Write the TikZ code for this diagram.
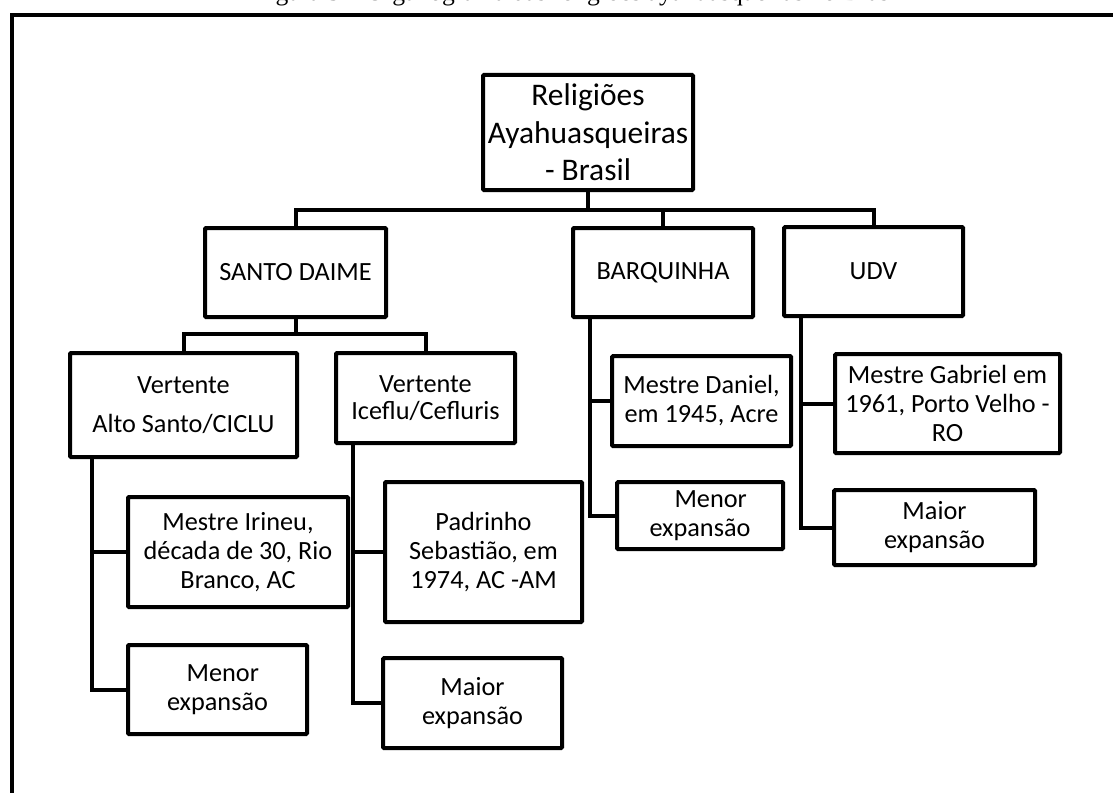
\documentclass[tikz,border=0pt]{standalone}
\usepackage{fontspec}
\setmainfont{Carlito}
\newfontfamily\capfont{Liberation Serif}
\usetikzlibrary{calc}
\begin{document}
\begin{tikzpicture}[x=0.75pt,y=-0.75pt,
  bx/.style={draw, line width=3pt, rounded corners=0.8pt, align=center, inner sep=0pt,
             font=\fontsize{19.7pt}{21.75pt}\selectfont},
  sz/.style 2 args={minimum width=#1*0.75pt, minimum height=#2*0.75pt},
  conn/.style={line width=3pt},
  frame/.style={line width=2.6pt}
]
\useasboundingbox (0,0) rectangle (1113,792);
% caption (cut off at top edge)
\node[anchor=base west, inner sep=0pt, font=\capfont\fontsize{19.2pt}{22pt}\selectfont] (cap) at (254,0.5)
  {Figura 3 – Organograma das religiões ayahuasqueiras no Brasil};
% frame
\draw[frame] (12,830) -- (12,15) -- (1150,15);

% nodes
\node[bx, sz={210}{115}, font=\fontsize{23.6pt}{28pt}\selectfont] (top) at (588,132.5)
  {Religiões\\Ayahuasqueiras\\- Brasil};
\node[bx, sz={181}{89}] (sd) at (295.5,272.5) {SANTO DAIME};
\node[bx, sz={180}{89}] (barq) at (663,272.5) {BARQUINHA};
\node[bx, sz={179}{89}] (udv) at (873.5,271.5) {UDV};

\node[bx, sz={227}{104}] (as) at (183.5,405) {Vertente\\[8pt]Alto Santo/CICLU};
\node[bx, sz={179}{90}] (ice) at (425.5,398) {Vertente\\[-1.5pt]Iceflu/Cefluris};

\node[bx, sz={220}{110}] (irineu) at (238,552) {Mestre Irineu,\\década de 30, Rio\\Branco, AC};
\node[bx, sz={179}{89}] (menA) at (217.5,689.5) {\hspace*{8pt}Menor\\expansão};
\node[bx, sz={197}{140}] (pad) at (483.5,552) {Padrinho\\Sebastião, em\\1974, AC -AM};
\node[bx, sz={179}{90}] (maiA) at (472.5,703) {Maior\\expansão};

\node[bx, sz={179}{90}] (dan) at (701.5,401) {Mestre Daniel,\\em 1945, Acre};
\node[bx, sz={166}{67}] (menB) at (700,515.5) {\hspace*{16pt}Menor\\expansão};
\node[bx, sz={225}{99}] (gab) at (947.5,403.5) {Mestre Gabriel em\\1961, Porto Velho -\\RO};
\node[bx, sz={201}{75}] (maiU) at (934.5,527.5) {Maior\\expansão};

% connectors: level 1
\coordinate (bus) at (588,210);
\draw[conn] (top.south) -- (bus);
\draw[conn] (sd.north) |- (bus) -| (udv.north);
\draw[conn] (barq.north) -- (barq.north |- bus);

% Santo Daime split
\coordinate (sbus) at (295.5,334);
\draw[conn] (sd.south) -- (sbus);
\draw[conn] (as.north) |- (sbus) -| (ice.north);

% Alto Santo branch
\coordinate (asv) at ($(as.south west)+(24,0)$);
\draw[conn] (asv) |- (menA.west);
\draw[conn] (asv |- irineu.west) -- (irineu.west);

% Iceflu branch
\coordinate (icev) at ($(ice.south west)+(19,0)$);
\draw[conn] (icev) |- (maiA.west);
\draw[conn] (icev |- pad.west) -- (pad.west);

% Barquinha branch
\coordinate (barv) at ($(barq.south west)+(19,0)$);
\draw[conn] (barv) |- (menB.west);
\draw[conn] (barv |- dan.west) -- (dan.west);

% UDV branch
\coordinate (udvv) at ($(udv.south west)+(19,0)$);
\draw[conn] (udvv) |- (maiU.west);
\draw[conn] (udvv |- gab.west) -- (gab.west);
\end{tikzpicture}
\end{document}
